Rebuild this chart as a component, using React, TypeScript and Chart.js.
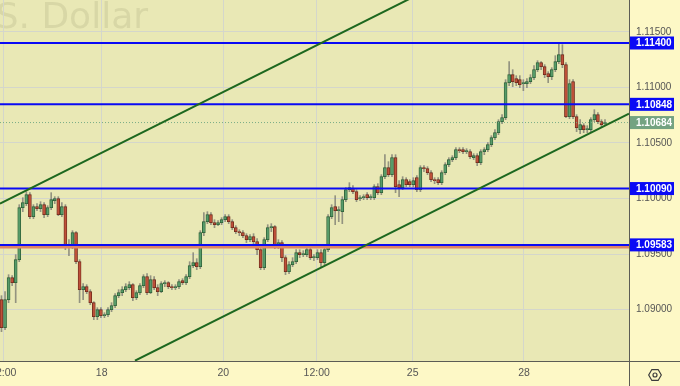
import React, { useEffect, useRef } from 'react';
import { Chart, registerables } from 'chart.js';

Chart.register(...registerables);

// Hourly candles: [open, high, low, close]
const candles: [number, number, number, number][] = [
  [1.0909, 1.09126, 1.08802, 1.08838],
  [1.08838, 1.09162, 1.0882, 1.0909],
  [1.0909, 1.09315, 1.09063, 1.09288],
  [1.09288, 1.09306, 1.09216, 1.09243],
  [1.09243, 1.09495, 1.09063, 1.0945],
  [1.0945, 1.09945, 1.09432, 1.09918],
  [1.09918, 1.10008, 1.09882, 1.09963],
  [1.09954, 1.10062, 1.09936, 1.10035],
  [1.10035, 1.10053, 1.09819, 1.09837],
  [1.09837, 1.09945, 1.09819, 1.09927],
  [1.09927, 1.09954, 1.09891, 1.09909],
  [1.09909, 1.09972, 1.09882, 1.09945],
  [1.09945, 1.09963, 1.09828, 1.09855],
  [1.09855, 1.09936, 1.09837, 1.09918],
  [1.09918, 1.10053, 1.099, 1.0999],
  [1.09981, 1.10017, 1.09954, 1.09999],
  [1.09999, 1.10017, 1.09846, 1.09855],
  [1.09855, 1.09963, 1.09837, 1.09927],
  [1.09927, 1.09945, 1.0954, 1.09585],
  [1.09585, 1.0963, 1.09486, 1.09567],
  [1.09567, 1.09711, 1.09549, 1.09693],
  [1.09693, 1.09702, 1.09414, 1.09432],
  [1.09432, 1.0945, 1.09063, 1.0918],
  [1.0918, 1.09234, 1.0909, 1.09207],
  [1.09207, 1.09225, 1.09144, 1.09162],
  [1.09162, 1.0918, 1.09045, 1.09063],
  [1.09063, 1.09072, 1.0891, 1.08937],
  [1.08937, 1.09018, 1.0891, 1.09],
  [1.09, 1.09018, 1.08928, 1.08946],
  [1.08946, 1.08973, 1.08928, 1.08955],
  [1.08955, 1.09018, 1.08937, 1.09],
  [1.09, 1.09063, 1.08982, 1.09036],
  [1.09036, 1.09144, 1.09018, 1.09126],
  [1.09126, 1.0918, 1.09108, 1.09153],
  [1.09153, 1.09207, 1.09126, 1.0918],
  [1.0918, 1.09234, 1.09162, 1.09207],
  [1.09198, 1.09252, 1.0918, 1.09225],
  [1.09225, 1.09234, 1.09081, 1.09108],
  [1.09108, 1.09171, 1.0909, 1.09153],
  [1.09153, 1.09234, 1.09135, 1.09216],
  [1.09216, 1.09315, 1.09198, 1.09297],
  [1.09297, 1.09324, 1.09135, 1.09153],
  [1.09153, 1.09306, 1.09144, 1.0927],
  [1.0927, 1.09297, 1.0918, 1.09198],
  [1.09198, 1.09225, 1.09126, 1.09162],
  [1.09162, 1.09252, 1.09153, 1.09234],
  [1.09234, 1.09261, 1.09207, 1.09243],
  [1.09243, 1.09252, 1.09189, 1.09207],
  [1.09207, 1.09225, 1.0918, 1.09198],
  [1.09198, 1.09225, 1.0918, 1.09207],
  [1.09207, 1.0927, 1.09189, 1.09252],
  [1.09261, 1.09279, 1.09225, 1.09243],
  [1.09243, 1.09315, 1.09225, 1.09297],
  [1.09297, 1.09432, 1.09279, 1.09396],
  [1.09396, 1.09513, 1.09378, 1.09423],
  [1.09423, 1.09459, 1.0936, 1.09387],
  [1.09387, 1.09711, 1.09369, 1.09693],
  [1.09693, 1.09873, 1.09666, 1.09792],
  [1.09792, 1.09882, 1.09774, 1.09855],
  [1.09855, 1.09873, 1.09765, 1.09783],
  [1.09783, 1.0981, 1.09738, 1.09765],
  [1.09765, 1.09801, 1.09756, 1.09783],
  [1.09783, 1.09828, 1.09765, 1.0981],
  [1.0981, 1.09855, 1.09792, 1.09837],
  [1.09837, 1.09855, 1.09774, 1.09792],
  [1.09792, 1.0981, 1.0972, 1.09738],
  [1.09738, 1.09756, 1.09684, 1.09702],
  [1.09702, 1.0972, 1.09666, 1.09693],
  [1.09693, 1.09711, 1.09648, 1.09666],
  [1.09666, 1.09684, 1.09603, 1.0963],
  [1.0963, 1.09675, 1.09612, 1.09657],
  [1.09657, 1.09684, 1.09585, 1.09612],
  [1.09612, 1.09639, 1.09495, 1.0954],
  [1.0954, 1.09558, 1.0936, 1.09378],
  [1.09378, 1.09648, 1.0936, 1.0963],
  [1.0963, 1.09765, 1.09612, 1.09738],
  [1.09738, 1.09774, 1.09702, 1.09747],
  [1.09747, 1.09756, 1.09549, 1.09567],
  [1.09585, 1.0963, 1.09549, 1.09603],
  [1.09603, 1.09621, 1.09432, 1.09468],
  [1.09468, 1.09486, 1.09315, 1.09342],
  [1.09342, 1.09432, 1.09324, 1.09405],
  [1.09405, 1.09468, 1.09387, 1.09432],
  [1.09432, 1.0954, 1.09414, 1.09513],
  [1.09513, 1.0954, 1.09468, 1.09495],
  [1.09495, 1.09531, 1.09477, 1.09504],
  [1.09495, 1.09567, 1.09477, 1.0954],
  [1.0954, 1.09567, 1.0945, 1.09468],
  [1.09468, 1.09495, 1.09441, 1.09477],
  [1.09468, 1.0954, 1.0945, 1.09513],
  [1.09513, 1.0954, 1.09378, 1.09423],
  [1.09423, 1.09558, 1.09405, 1.0954],
  [1.0954, 1.09855, 1.09522, 1.09837],
  [1.09837, 1.09945, 1.09819, 1.09918],
  [1.09927, 1.10026, 1.09765, 1.09891],
  [1.09891, 1.09927, 1.09792, 1.099],
  [1.09882, 1.10017, 1.09774, 1.0999],
  [1.0999, 1.10098, 1.09972, 1.1008],
  [1.1008, 1.10143, 1.10062, 1.10098],
  [1.10089, 1.10116, 1.10044, 1.10062],
  [1.10062, 1.1008, 1.09972, 1.0999],
  [1.09999, 1.10026, 1.09981, 1.10008],
  [1.10008, 1.10035, 1.0999, 1.10017],
  [1.10035, 1.10053, 1.0999, 1.10008],
  [1.10008, 1.10035, 1.0999, 1.10017],
  [1.10008, 1.10125, 1.0999, 1.10107],
  [1.10107, 1.10134, 1.10035, 1.10053],
  [1.10053, 1.10215, 1.10035, 1.10197],
  [1.10197, 1.10395, 1.10179, 1.10278],
  [1.10278, 1.10332, 1.10197, 1.10215],
  [1.10215, 1.10395, 1.10197, 1.10368],
  [1.10368, 1.10395, 1.10053, 1.10107],
  [1.10125, 1.10161, 1.10017, 1.10098],
  [1.10098, 1.10197, 1.1008, 1.1017],
  [1.1017, 1.10188, 1.10107, 1.10125],
  [1.10152, 1.1017, 1.10107, 1.10125],
  [1.10125, 1.10188, 1.10107, 1.10161],
  [1.10188, 1.10206, 1.10062, 1.1008],
  [1.1008, 1.10296, 1.10062, 1.10278],
  [1.10278, 1.10296, 1.10242, 1.10269],
  [1.10269, 1.10287, 1.10215, 1.10233],
  [1.10233, 1.10251, 1.10152, 1.1017],
  [1.1017, 1.10188, 1.10134, 1.10161],
  [1.1017, 1.10188, 1.10125, 1.10143],
  [1.10143, 1.10251, 1.10125, 1.10233],
  [1.10233, 1.10323, 1.10215, 1.10305],
  [1.10305, 1.10368, 1.10287, 1.1035],
  [1.1035, 1.10386, 1.10332, 1.10368],
  [1.10368, 1.10458, 1.1035, 1.1044],
  [1.1044, 1.10458, 1.10413, 1.10431],
  [1.1044, 1.10458, 1.10404, 1.10422],
  [1.10422, 1.10449, 1.10404, 1.10431],
  [1.10422, 1.1044, 1.10359, 1.10377],
  [1.10368, 1.10404, 1.1035, 1.10386],
  [1.10386, 1.10404, 1.10296, 1.10323],
  [1.10323, 1.1044, 1.10305, 1.10422],
  [1.10422, 1.10458, 1.10395, 1.1044],
  [1.1044, 1.10503, 1.10422, 1.10485],
  [1.10485, 1.10566, 1.10467, 1.10548],
  [1.10548, 1.1062, 1.1053, 1.10593],
  [1.10593, 1.1071, 1.10575, 1.10692],
  [1.10692, 1.10755, 1.10674, 1.10728],
  [1.10728, 1.1107, 1.1071, 1.11043],
  [1.11043, 1.11232, 1.11016, 1.11115],
  [1.11115, 1.1116, 1.11007, 1.11052],
  [1.11079, 1.11106, 1.11016, 1.11043],
  [1.1107, 1.11106, 1.10998, 1.11025],
  [1.11034, 1.1107, 1.10971, 1.11043],
  [1.11034, 1.11079, 1.10998, 1.11052],
  [1.11052, 1.11115, 1.11034, 1.11088],
  [1.11088, 1.11196, 1.1107, 1.1116],
  [1.1116, 1.11241, 1.11142, 1.11223],
  [1.11223, 1.11232, 1.1116, 1.11187],
  [1.11187, 1.11205, 1.11088, 1.11115],
  [1.11124, 1.11142, 1.11043, 1.11097],
  [1.11097, 1.11178, 1.1107, 1.1116],
  [1.1116, 1.11286, 1.11142, 1.11232],
  [1.11232, 1.11403, 1.11214, 1.11295],
  [1.11295, 1.11385, 1.11178, 1.11205],
  [1.11205, 1.11223, 1.10728, 1.10737],
  [1.10737, 1.1107, 1.10719, 1.11034],
  [1.11052, 1.1107, 1.10719, 1.10737],
  [1.10737, 1.10755, 1.10602, 1.10638],
  [1.1062, 1.1071, 1.10584, 1.10665],
  [1.10656, 1.10674, 1.10593, 1.1062],
  [1.1062, 1.10656, 1.10593, 1.10629],
  [1.1062, 1.10728, 1.10602, 1.1071],
  [1.1071, 1.108, 1.10692, 1.10755],
  [1.10755, 1.10773, 1.10674, 1.10692],
  [1.10692, 1.1071, 1.10647, 1.10665],
  [1.10674, 1.1071, 1.10656, 1.10684],
];

// Time axis (candle index units)
const timeTickPositions = [0.51, 28.23, 62.48, 88.79, 115.83, 147.18];
const timeTickLabels = ['12:00', '18', '20', '12:00', '25', '28'];
const xRange = [-0.42, 176.76];

// Price axis
const priceTicks = [1.09, 1.095, 1.1, 1.105, 1.11, 1.115];
const priceRange = [1.08538, 1.11787];

// Horizontal levels
const blueLevels = [1.114, 1.10848, 1.1009, 1.09583];
const redLevel = 1.09562;
const lastPrice = 1.10684;

// Channel lines: [index, price] endpoints
const upperChannel = [
  { x: -0.42, y: 1.09954 },
  { x: 123.5, y: 1.11934 },
];
const lowerChannel = [
  { x: 37.6, y: 1.08541 },
  { x: 176.76, y: 1.10764 },
];

const FONT = '"Liberation Sans", Arial, sans-serif';
const PLOT_BG = '#e9e8b5';
const AXIS_BG = '#fdf8c6';
const GRID = '#d4d6cb';
const GREEN_FILL = '#579b69';
const GREEN_EDGE = '#2b5d35';
const RED_FILL = '#be5039';
const RED_EDGE = '#6a281a';
const BLUE = '#0a0af5';

const hLine = (v: number) => [
  { x: xRange[0], y: v },
  { x: xRange[1], y: v },
];

const decorPlugin = {
  id: 'decor',
  beforeDraw(chart: any) {
    const { ctx, chartArea, width, height } = chart;
    ctx.save();
    ctx.fillStyle = AXIS_BG;
    ctx.fillRect(0, 0, width, height);
    ctx.fillStyle = PLOT_BG;
    ctx.fillRect(chartArea.left, chartArea.top, chartArea.right - chartArea.left, chartArea.bottom - chartArea.top);
    // watermark
    ctx.beginPath();
    ctx.rect(chartArea.left, chartArea.top, chartArea.right - chartArea.left, chartArea.bottom - chartArea.top);
    ctx.clip();
    ctx.font = '36px "DejaVu Sans", sans-serif';
    ctx.fillStyle = 'rgba(120,120,80,0.15)';
    ctx.textAlign = 'right';
    ctx.textBaseline = 'alphabetic';
    ctx.fillText('Euro / U.S. Dollar', chartArea.left + 148, 28);
    ctx.restore();
  },
  afterDraw(chart: any) {
    const { ctx, chartArea, width, height } = chart;
    const ys = chart.scales.y;
    ctx.save();
    // frame lines
    ctx.strokeStyle = '#5c5c55';
    ctx.lineWidth = 1;
    ctx.beginPath();
    ctx.moveTo(0, Math.round(chartArea.bottom) + 0.5);
    ctx.lineTo(width, Math.round(chartArea.bottom) + 0.5);
    ctx.moveTo(Math.round(chartArea.right) + 0.5, 0);
    ctx.lineTo(Math.round(chartArea.right) + 0.5, height);
    ctx.stroke();
    // price boxes
    const box = (v: number, color: string) => {
      const py = ys.getPixelForValue(v);
      ctx.fillStyle = color;
      ctx.fillRect(chartArea.right + 1, py - 6.5, 44, 13);
      ctx.fillStyle = '#ffffff';
      ctx.font = 'bold 10px ' + FONT;
      ctx.textAlign = 'left';
      ctx.textBaseline = 'middle';
      ctx.fillText(v.toFixed(5), chartArea.right + 7, py + 0.5);
    };
    blueLevels.forEach((v) => box(v, BLUE));
    box(lastPrice, '#74a381');
    // settings hexagon icon
    const cx = chartArea.right + 26;
    const cy = chartArea.bottom + 14;
    ctx.strokeStyle = '#3c3c3c';
    ctx.lineWidth = 1.2;
    ctx.beginPath();
    for (let k = 0; k < 6; k++) {
      const a = (Math.PI / 3) * k;
      const px = cx + 6.3 * Math.cos(a);
      const py = cy + 6.3 * Math.sin(a);
      if (k === 0) ctx.moveTo(px, py);
      else ctx.lineTo(px, py);
    }
    ctx.closePath();
    ctx.stroke();
    ctx.beginPath();
    ctx.arc(cx, cy, 2, 0, Math.PI * 2);
    ctx.stroke();
    ctx.restore();
  },
};

export default function App() {
  const ref = useRef<HTMLCanvasElement>(null);
  useEffect(() => {
    document.body.style.margin = '0';
    const isUp = candles.map((c) => c[3] >= c[0]);
    const chart = new Chart(ref.current as HTMLCanvasElement, {
      type: 'line',
      data: {
        datasets: [
          {
            type: 'line',
            label: 'upper',
            data: upperChannel,
            borderColor: '#1d681f',
            borderWidth: 2,
            pointRadius: 0,
            order: 1,
          },
          {
            type: 'line',
            label: 'lower',
            data: lowerChannel,
            borderColor: '#1d681f',
            borderWidth: 2,
            pointRadius: 0,
            order: 1,
          },
          ...blueLevels.map((v) => ({
            type: 'line' as const,
            label: 'level ' + v,
            data: hLine(v),
            borderColor: BLUE,
            borderWidth: 2,
            pointRadius: 0,
            order: 2,
          })),
          {
            type: 'line',
            label: 'red level',
            data: hLine(redLevel),
            borderColor: '#dd8466',
            borderWidth: 2.5,
            pointRadius: 0,
            order: 3,
          },
          {
            type: 'line',
            label: 'last',
            data: hLine(lastPrice),
            borderColor: '#79ad86',
            borderWidth: 1,
            borderDash: [1, 2],
            pointRadius: 0,
            order: 3,
          },
          {
            type: 'bar',
            label: 'bodies',
            data: candles.map((c, i) => ({ x: i, y: [c[0], c[3]] })) as any,
            backgroundColor: isUp.map((u) => (u ? GREEN_FILL : RED_FILL)),
            borderColor: isUp.map((u) => (u ? GREEN_EDGE : RED_EDGE)),
            borderWidth: 0.8,
            borderSkipped: false,
            barThickness: 3,
            minBarLength: 1,
            grouped: false,
            order: 4,
          } as any,
          {
            type: 'bar',
            label: 'wicks',
            data: candles.map((c, i) => ({ x: i, y: [c[2], c[1]] })) as any,
            backgroundColor: 'rgba(125,125,115,0.8)',
            borderWidth: 0,
            barThickness: 1,
            grouped: false,
            order: 5,
          } as any,
        ],
      },
      options: {
        responsive: false,
        animation: false,
        events: [],
        layout: { padding: { left: 20, top: 0, right: 0, bottom: 0 } },
        plugins: { legend: { display: false }, tooltip: { enabled: false } },
        scales: {
          x: {
            type: 'linear',
            min: xRange[0],
            max: xRange[1],
            offset: false,
            grid: { color: GRID, drawTicks: false, offset: false },
            border: { display: false },
            ticks: {
              autoSkip: false,
              maxRotation: 0,
              color: '#555555',
              font: { size: 10.5, family: FONT },
              padding: 6,
              callback: (_v: any, i: number) => timeTickLabels[i],
            },
            afterBuildTicks: (s: any) => {
              s.ticks = timeTickPositions.map((v) => ({ value: v }));
            },
            afterFit: (s: any) => {
              s.height = 25;
              s.paddingLeft = 0;
              s.paddingRight = 0;
            },
          } as any,
          y: {
            type: 'linear',
            position: 'right',
            min: priceRange[0],
            max: priceRange[1],
            grid: { color: GRID, drawTicks: false },
            border: { display: false },
            ticks: {
              color: '#555555',
              font: { size: 10, family: FONT },
              padding: 7,
              callback: (v: any) => Number(v).toFixed(5),
            },
            afterBuildTicks: (s: any) => {
              s.ticks = priceTicks.map((v) => ({ value: v }));
            },
            afterFit: (s: any) => {
              s.width = 51;
              s.paddingTop = 0;
              s.paddingBottom = 0;
            },
          } as any,
        },
      },
      plugins: [decorPlugin],
    });
    return () => chart.destroy();
  }, []);
  return (
    <div style={{ position: 'relative', width: 680, height: 386, overflow: 'hidden' }}>
      <div style={{ position: 'absolute', left: -20, top: 0, width: 700, height: 386 }}>
        <canvas ref={ref} width={700} height={386} style={{ display: 'block' }} />
      </div>
    </div>
  );
}
